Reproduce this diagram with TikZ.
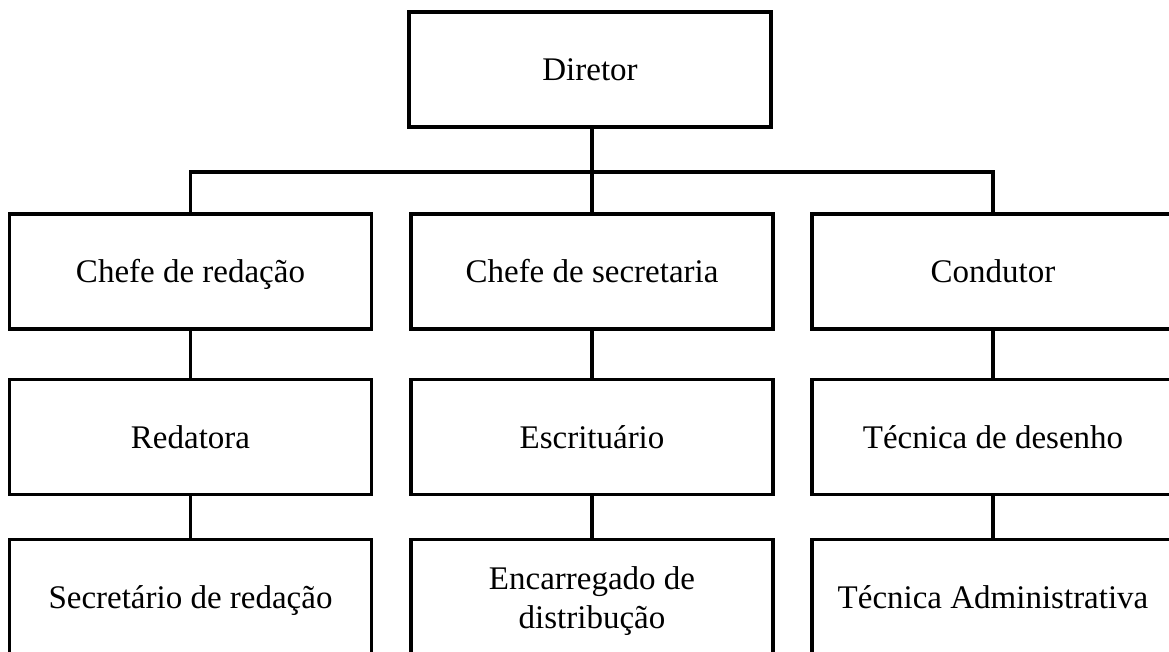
\documentclass[tikz,border=0pt]{standalone}
\usepackage{fontspec}
\setmainfont{Liberation Serif}
\begin{document}
\begin{tikzpicture}[x=1pt,y=-1pt,
  boxbase/.style={draw=black,line width=3.5pt,line join=miter,minimum width=362pt,minimum height=115pt,inner sep=0pt,align=center,font=\fontsize{33}{39}\selectfont},
  box/.style={boxbase,text height=22.5pt,text depth=0pt},
  conn/.style={draw=black,line width=3.5pt,line join=miter}]
\useasboundingbox (0,0) rectangle (1169,652);
\clip (0,0) rectangle (1169,652);
\node[box] (dir) at (590,69.5) {Diretor};
\node[box] (c1) at (190.5,271.5) {Chefe de redação};
\node[box] (c2) at (592,271.5) {Chefe de secretaria};
\node[box] (c3) at (993,271.5) {Condutor};
\node[box] (r1) at (190.5,437) {Redatora};
\node[box] (r2) at (592,437) {Escrituário};
\node[box] (r3) at (993,437) {Técnica de desenho};
\node[box] (s1) at (190.5,597) {Secretário de redação};
\node[boxbase] (s2) at (592,597) {};
\node[font=\fontsize{33}{39}\selectfont,align=center,inner sep=0pt] (s2t) at (592,601) {Encarregado de\\distribução};
\node[box] (s3) at (993,597) {Técnica Administrativa};
\coordinate (bar) at (592,172);
\draw[conn] (dir.south -| c2.north) -- (c2.north);
\draw[conn] (c1.north) |- (bar) -| (c3.north);
\draw[conn] (c1.south) -- (r1.north);
\draw[conn] (c2.south) -- (r2.north);
\draw[conn] (c3.south) -- (r3.north);
\draw[conn] (r1.south) -- (s1.north);
\draw[conn] (r2.south) -- (s2.north);
\draw[conn] (r3.south) -- (s3.north);
\end{tikzpicture}
\end{document}
